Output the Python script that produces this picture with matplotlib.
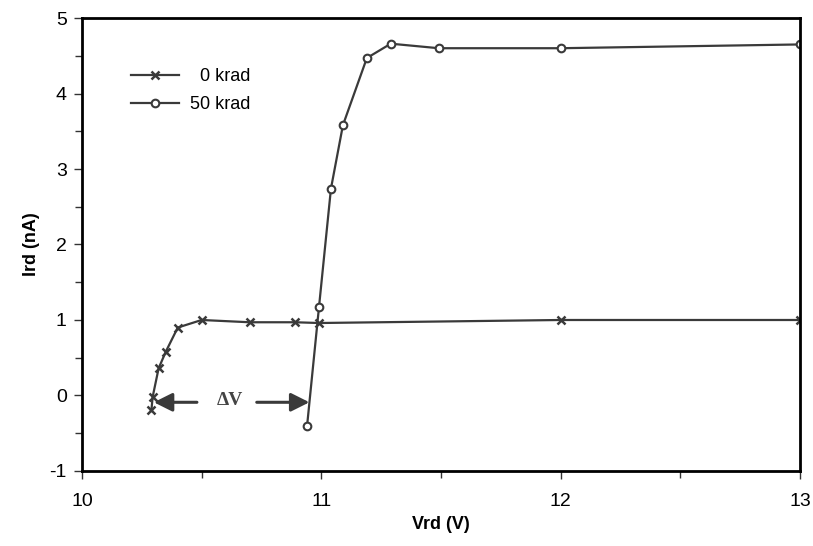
import matplotlib.pyplot as plt
from matplotlib.ticker import MultipleLocator

plt.rcParams['font.family'] = ['Liberation Sans', 'DejaVu Sans']
plt.rcParams['axes.unicode_minus'] = False

# 0 krad
vrd_0 = [10.29, 10.295, 10.32, 10.35, 10.40, 10.50, 10.70, 10.89, 10.99, 12.0, 13.0]
ird_0 = [-0.19, -0.02, 0.36, 0.58, 0.90, 1.00, 0.97, 0.97, 0.96, 1.00, 1.00]

# 50 krad
vrd_50 = [10.94, 10.99, 11.04, 11.09, 11.19, 11.29, 11.49, 12.0, 13.0]
ird_50 = [-0.41, 1.17, 2.74, 3.58, 4.47, 4.66, 4.60, 4.60, 4.65]

line_col = '#3a3a3a'

fig = plt.figure(figsize=(8.13, 5.46), dpi=100)
ax = fig.add_axes([0.1009, 0.1374, 0.8832, 0.8296])

ax.plot(vrd_0, ird_0, color=line_col, lw=1.6, marker='x', ms=6, mew=1.8,
        label='  0 krad')
ax.plot(vrd_50, ird_50, color=line_col, lw=1.6, marker='o', ms=5.5, mew=1.5,
        mfc='white', label='50 krad')

# delta V annotation
ax.annotate('', xy=(10.30, -0.09), xytext=(10.48, -0.09),
            arrowprops=dict(arrowstyle='-|>', color=line_col, lw=2.2,
                            mutation_scale=28, shrinkA=0, shrinkB=0))
ax.annotate('', xy=(10.95, -0.09), xytext=(10.73, -0.09),
            arrowprops=dict(arrowstyle='-|>', color=line_col, lw=2.2,
                            mutation_scale=28, shrinkA=0, shrinkB=0))
ax.text(10.62, -0.07, 'ΔV', ha='center', va='center', fontsize=14,
        fontweight='bold', color='#444444', family=['Liberation Serif', 'DejaVu Serif'])

ax.set_xlim(10, 13)
ax.set_ylim(-1, 5)
ax.xaxis.set_major_locator(MultipleLocator(1))
ax.xaxis.set_minor_locator(MultipleLocator(0.5))
ax.yaxis.set_major_locator(MultipleLocator(1))
ax.yaxis.set_minor_locator(MultipleLocator(0.5))
ax.tick_params(which='both', direction='out', colors='#333333', labelcolor='black',
               labelsize=14)
ax.tick_params(which='major', length=6, width=1)
ax.tick_params(which='minor', length=5, width=1)
ax.tick_params(axis='x', pad=10)
ax.tick_params(axis='y', pad=5)
for s in ax.spines.values():
    s.set_linewidth(2)
    s.set_color('black')

ax.set_xlabel('Vrd (V)', fontsize=13, fontweight='bold', labelpad=4)
ax.set_ylabel('Ird (nA)', fontsize=13, fontweight='bold', labelpad=7)

leg = ax.legend(loc='upper left', bbox_to_anchor=(0.045, 0.925), frameon=False,
                fontsize=13, handlelength=2.7, handletextpad=0.6, labelspacing=0.6)

fig.savefig('out.png', dpi=100)
